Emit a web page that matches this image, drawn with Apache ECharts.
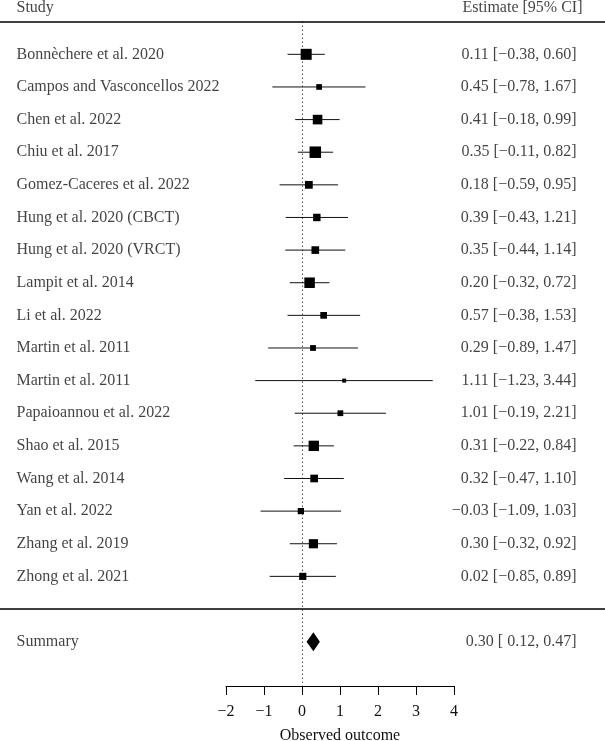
<!DOCTYPE html>
<html>
<head>
<meta charset="utf-8">
<script src="https://cdn.jsdelivr.net/npm/echarts@6/dist/echarts.min.js"></script>
<style>
html,body{margin:0;padding:0;background:#fff;}
#chart{width:605px;height:741px;}
</style>
</head>
<body>
<div id="chart"></div>
<script>
const studies = [
  'Bonnèchere et al. 2020',
  'Campos and Vasconcellos 2022',
  'Chen et al. 2022',
  'Chiu et al. 2017',
  'Gomez-Caceres et al. 2022',
  'Hung et al. 2020 (CBCT)',
  'Hung et al. 2020 (VRCT)',
  'Lampit et al. 2014',
  'Li et al. 2022',
  'Martin et al. 2011',
  'Martin et al. 2011',
  'Papaioannou et al. 2022',
  'Shao et al. 2015',
  'Wang et al. 2014',
  'Yan et al. 2022',
  'Zhang et al. 2019',
  'Zhong et al. 2021'
];
const estimates = [0.11, 0.45, 0.41, 0.35, 0.18, 0.39, 0.35, 0.20, 0.57, 0.29, 1.11, 1.01, 0.31, 0.32, -0.03, 0.30, 0.02];
const lowers    = [-0.38, -0.78, -0.18, -0.11, -0.59, -0.43, -0.44, -0.32, -0.38, -0.89, -1.23, -0.19, -0.22, -0.47, -1.09, -0.32, -0.85];
const uppers    = [0.60, 1.67, 0.99, 0.82, 0.95, 1.21, 1.14, 0.72, 1.53, 1.47, 3.44, 2.21, 0.84, 1.10, 1.03, 0.92, 0.89];
const summaryLabel = 'Summary';
const summaryEstimate = 0.30;
const summaryLower = 0.12;
const summaryUpper = 0.47;
const xTicks = [-2, -1, 0, 1, 2, 3, 4];
const headerStudy = 'Study';
const headerEstimate = 'Estimate [95% CI]';
const axisTitle = 'Observed outcome';

const FONT = '"Liberation Serif", "DejaVu Serif", serif';
const n = studies.length;
const summaryRow = n + 1;
const lineRow = n;
const headerRow = -1;
const yMin = -1, yMax = 19.36;

function fmtNum(v, padPositive) {
  const s = Math.abs(v).toFixed(2);
  if (v < 0) return '\u2212' + s;
  return (padPositive ? ' ' : '') + s;
}
function ciText(e, l, u) {
  return fmtNum(e, false) + ' [' + fmtNum(l, true) + ', ' + fmtNum(u, false) + ']';
}

// precision-based square sizes (1/SE), derived from CI widths
const prec = lowers.map((l, i) => 3.92 / (uppers[i] - l));
const pMin = Math.min(...prec), pMax = Math.max(...prec);
const sizes = prec.map(p => 4 + 7.5 * (p - pMin) / (pMax - pMin));

const studyData = studies.map((s, i) => [i, estimates[i], lowers[i], uppers[i], sizes[i]]);

const leftX = 16, rightX = 577, headerRightX = 583;

const nameLabels = studies.map((s, i) => ({ value: [leftX, i], name: s }));
nameLabels.push({ value: [leftX, summaryRow], name: summaryLabel });
nameLabels.push({ value: [leftX, headerRow - 0.42], name: headerStudy });

const estLabels = studies.map((s, i) => ({ value: [rightX, i], name: ciText(estimates[i], lowers[i], uppers[i]) }));
estLabels.push({ value: [rightX, summaryRow], name: ciText(summaryEstimate, summaryLower, summaryUpper) });
estLabels.push({ value: [headerRightX, headerRow - 0.42], name: headerEstimate });

const chart = echarts.init(document.getElementById('chart'));
const textStyle = { fontFamily: FONT, fontSize: 16, color: '#111' };

chart.setOption({
  animation: false,
  backgroundColor: '#fff',
  grid: [
    { left: 0, right: 0, top: 21.7, bottom: 55, outerBoundsMode: 'none', containLabel: false },
    { left: 226, right: 151, top: 21.7, bottom: 55, outerBoundsMode: 'none', containLabel: false }
  ],
  xAxis: [
    { gridIndex: 0, type: 'value', min: 0, max: 605, show: false },
    {
      gridIndex: 1, type: 'value', min: xTicks[0], max: xTicks[xTicks.length - 1], interval: 1,
      splitLine: { show: false },
      axisLine: { show: true, onZero: false, lineStyle: { color: '#000', width: 1 } },
      axisTick: { show: true, inside: false, length: 9, lineStyle: { color: '#000', width: 1 } },
      axisLabel: {
        margin: 18, fontFamily: FONT, fontSize: 16, color: '#111',
        formatter: v => (v < 0 ? '\u2212' + Math.abs(v) : String(v))
      },
      name: axisTitle, nameLocation: 'middle', nameGap: 42,
      nameTextStyle: { fontFamily: FONT, fontSize: 16, color: '#111' }
    }
  ],
  yAxis: [
    { gridIndex: 0, type: 'value', min: yMin, max: yMax, inverse: true, show: false },
    { gridIndex: 1, type: 'value', min: yMin, max: yMax, inverse: true, show: false }
  ],
  series: [
    {
      type: 'scatter', xAxisIndex: 0, yAxisIndex: 0, clip: false,
      symbolSize: 1, itemStyle: { color: 'transparent' },
      data: nameLabels,
      label: { show: true, position: 'right', distance: 0, formatter: p => p.name, ...textStyle },
      markLine: {
        silent: true, symbol: 'none', label: { show: false },
        lineStyle: { color: '#000', width: 1.5, type: 'solid' },
        data: [{ yAxis: headerRow }, { yAxis: lineRow }]
      }
    },
    {
      type: 'scatter', xAxisIndex: 0, yAxisIndex: 0, clip: false,
      symbolSize: 1, itemStyle: { color: 'transparent' },
      data: estLabels,
      label: { show: true, position: 'left', distance: 0, formatter: p => p.name, ...textStyle }
    },
    {
      type: 'custom', xAxisIndex: 1, yAxisIndex: 1,
      data: studyData,
      encode: { x: [1, 2, 3], y: 0 },
      renderItem: (params, api) => {
        const row = api.value(0);
        const pE = api.coord([api.value(1), row]);
        const pL = api.coord([api.value(2), row]);
        const pU = api.coord([api.value(3), row]);
        const s = api.value(4);
        return {
          type: 'group',
          children: [
            { type: 'line', shape: { x1: pL[0], y1: pL[1], x2: pU[0], y2: pU[1] }, style: { stroke: '#111', lineWidth: 1 } },
            { type: 'rect', shape: { x: pE[0] - s / 2, y: pE[1] - s / 2, width: s, height: s }, style: { fill: '#000' } }
          ]
        };
      },
      markLine: {
        silent: true, symbol: 'none', label: { show: false },
        lineStyle: { color: '#000', width: 1, type: [1, 3] },
        data: [{ xAxis: 0 }]
      }
    },
    {
      type: 'custom', xAxisIndex: 1, yAxisIndex: 1,
      data: [[summaryRow, summaryEstimate, summaryLower, summaryUpper]],
      encode: { x: [1, 2, 3], y: 0 },
      renderItem: (params, api) => {
        const row = api.value(0);
        const pE = api.coord([api.value(1), row]);
        const pL = api.coord([api.value(2), row]);
        const pU = api.coord([api.value(3), row]);
        const h = 9.5;
        return {
          type: 'polygon',
          shape: { points: [[pL[0], pL[1]], [pE[0], pE[1] - h], [pU[0], pU[1]], [pE[0], pE[1] + h]] },
          style: { fill: '#000' }
        };
      }
    }
  ]
});
</script>
</body>
</html>
